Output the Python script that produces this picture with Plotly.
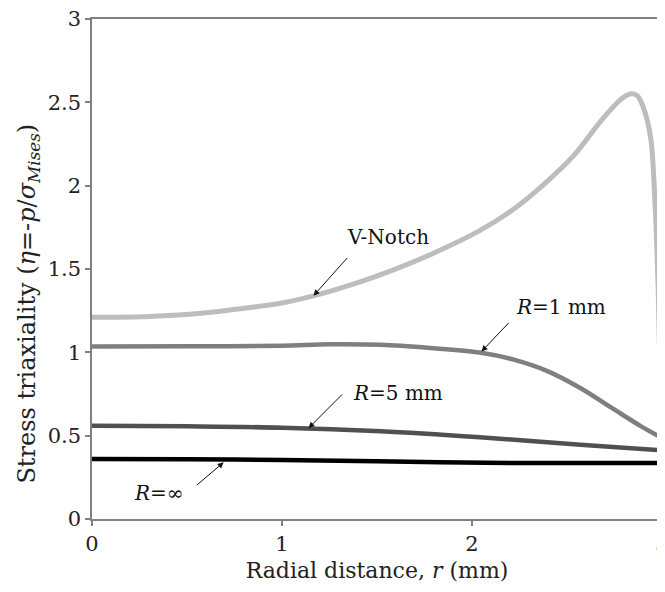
import plotly.graph_objects as go

# ---------------- data ----------------
vnotch_r = [0, 0.3, 0.6, 0.8, 1.0, 1.17, 1.35, 1.52, 1.78, 2.04, 2.22, 2.39, 2.535,
            2.68, 2.78, 2.83, 2.87, 2.90, 2.94, 2.965, 2.98, 2.99, 3.0]
vnotch_eta = [1.21, 1.215, 1.237, 1.265, 1.296, 1.34, 1.40, 1.466, 1.586, 1.73, 1.86,
              2.02, 2.18, 2.39, 2.515, 2.55, 2.54, 2.475, 2.29, 1.85, 1.375, 0.95, 0.87]

r1_r = [0, 0.5, 1.0, 1.25, 1.52, 1.78, 2.04, 2.22, 2.4, 2.57, 2.75, 2.89, 3.0]
r1_eta = [1.035, 1.036, 1.04, 1.048, 1.045, 1.026, 0.999, 0.956, 0.886, 0.786, 0.656,
          0.556, 0.486]

r5_r = [0, 0.5, 1.0, 1.52, 2.04, 2.57, 3.0]
r5_eta = [0.56, 0.556, 0.548, 0.526, 0.49, 0.446, 0.412]

rinf_r = [0, 0.5, 1.0, 1.5, 2.2, 2.5, 3.0]
rinf_eta = [0.36, 0.358, 0.354, 0.346, 0.336, 0.336, 0.336]

x_ticks = [0, 1, 2, 3]
y_ticks = [0, 0.5, 1, 1.5, 2, 2.5, 3]
y_tick_labels = ["0", "0.5", "1", "1.5", "2", "2.5", "3"]

# labels: (text, x, y), arrows: (tail_x, tail_y, head_x, head_y)
labels = [("V-Notch", 1.56, 1.695), ("<i>R</i>=1 mm", 2.47, 1.275),
          ("<i>R</i>=5 mm", 1.61, 0.756), ("<i>R</i>=∞", 0.35, 0.156)]
arrows = [(1.35, 1.575, 1.166, 1.34), (2.20, 1.185, 2.05, 1.005),
          (1.324, 0.756, 1.14, 0.546), (0.544, 0.196, 0.693, 0.34)]

FONT = "DejaVu Serif"

fig = go.Figure()
fig.add_trace(go.Scatter(x=vnotch_r, y=vnotch_eta, mode="lines", line=dict(color="#bdbdbd", width=5, shape="spline", smoothing=0.9)))
fig.add_trace(go.Scatter(x=r1_r, y=r1_eta, mode="lines", line=dict(color="#7f7f7f", width=4.5, shape="spline", smoothing=0.9)))
fig.add_trace(go.Scatter(x=r5_r, y=r5_eta, mode="lines", line=dict(color="#505050", width=4.5, shape="spline", smoothing=0.9)))
fig.add_trace(go.Scatter(x=rinf_r, y=rinf_eta, mode="lines", line=dict(color="#000000", width=4.5, shape="spline", smoothing=0.9)))

annotations = []
for t, x, y in labels:
    annotations.append(dict(x=x, y=y, xref="x", yref="y", text=t, showarrow=False,
                            xanchor="center", yanchor="middle",
                            font=dict(family=FONT, size=20, color="#111")))
for tx, ty, hx, hy in arrows:
    annotations.append(dict(x=hx, y=hy, ax=tx, ay=ty, xref="x", yref="y", axref="x", ayref="y",
                            text="", showarrow=True, arrowhead=2, arrowsize=1.2, arrowwidth=1,
                            arrowcolor="#111"))
annotations.append(dict(x=-0.113, y=0.43, xref="paper", yref="paper", textangle=-90,
                        xanchor="center", yanchor="middle",
                        text="Stress triaxiality (<i>η</i>=-<i>p</i>/<i>σ</i><sub><i>Mises</i></sub>)",
                        showarrow=False, font=dict(family=FONT, size=24, color="#222")))

axis_common = dict(showgrid=False, zeroline=False, showline=True, linecolor="#808080", linewidth=1.5,
                   mirror=True, ticks="outside", ticklen=5, tickcolor="#808080", tickwidth=1.5,
                   automargin=False, ticklabeloverflow="allow",
                   tickfont=dict(family=FONT, size=21, color="#222"))

# the page adds an 8px body margin, so the figure is sized to fit the 665x592 window
fig.update_layout(
    width=657, height=584,
    margin=dict(l=83.7, r=3.3, t=11.3, b=72.7),
    paper_bgcolor="white", plot_bgcolor="white",
    showlegend=False,
    annotations=annotations,
    xaxis=dict(range=[0, 3], tickvals=x_ticks, ticktext=[str(v) for v in x_ticks],
               title=dict(text="Radial distance, <i>r</i> (mm)", font=dict(family=FONT, size=22, color="#222"), standoff=8),
               **axis_common),
    yaxis=dict(range=[0, 3], tickvals=y_ticks, ticktext=y_tick_labels, **axis_common),
)

fig.write_html("out.html")
